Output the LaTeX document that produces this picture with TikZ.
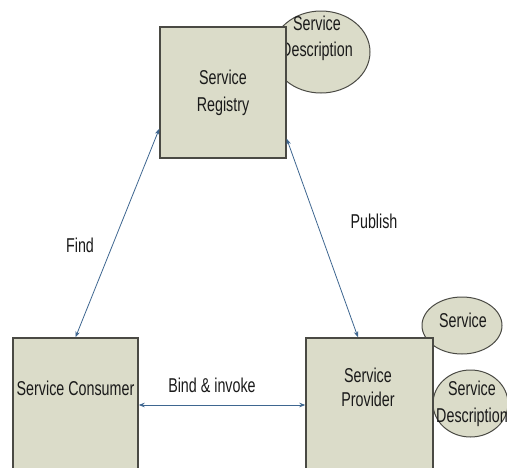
\documentclass[tikz,border=0pt]{standalone}
\usepackage{fontspec}
\setmainfont{Liberation Sans}
\usepackage{graphicx}
\usetikzlibrary{arrows.meta,shapes.geometric}
\definecolor{boxfill}{HTML}{DBDCC9}
\definecolor{boxline}{HTML}{4A4A44}
\definecolor{arrowc}{HTML}{3E6690}
\definecolor{txtc}{HTML}{1A1A1A}
\newcommand{\tl}[2][19]{\scalebox{1}[1.4]{\fontsize{14.3}{#1}\selectfont\begin{tabular}{@{}c@{}}#2\end{tabular}}}
\tikzset{
  boxnode/.style={draw=boxline, fill=boxfill, line width=1.4pt, inner sep=0pt, text=txtc},
  ellnode/.style={ellipse, draw=boxline, fill=boxfill, line width=1pt, inner sep=0pt},
  lbl/.style={inner sep=0pt, text=txtc},
  conn/.style={draw=arrowc, line width=0.8pt, {Stealth[length=6pt,width=4.5pt]}-{Stealth[length=6pt,width=4.5pt]}}
}
\begin{document}
\begin{tikzpicture}[x=1pt,y=-1pt]
\useasboundingbox (0,0) rectangle (507,467);
\clip (0,0) rectangle (507,467);
% ellipses (behind the boxes)
\node[ellnode, minimum width=98pt, minimum height=82pt] (d1) at (321,52) {};
\node[lbl] (d1t) at (317,38) {\tl{Service\\Description}};
\node[ellnode, minimum width=80pt, minimum height=57pt] (s2) at (462,325.5) {};
\node[lbl] (s2t) at (463,322) {\tl{Service}};
\node[ellnode, minimum width=75pt, minimum height=67pt] (d2) at (470.5,403.5) {};
\node[lbl] (d2t) at (472,403.5) {\tl{Service\\Description}};
% boxes
\node[boxnode, minimum width=126pt, minimum height=131pt] (reg) at (223,92.5) {\tl{Service\\Registry}};
\node[boxnode, minimum width=125pt, minimum height=142pt] (con) at (75.5,409) {};
\node[lbl] (cont) at (75.5,390) {\tl{Service Consumer}};
\node[boxnode, minimum width=127pt, minimum height=142pt] (prov) at (369.5,409) {};
\node[lbl] (provt) at (368,390) {\tl[17]{Service\\Provider}};
% connectors
\draw[conn] ([yshift=30pt]reg.south west) -- (con.north);
\draw[conn] ([yshift=20pt]reg.south east) -- ([xshift=-11.5pt]prov.north);
\draw[conn] ([yshift=4pt]con.east) -- ([yshift=4pt]prov.west);
% labels
\node[lbl] (find) at (80,247) {\tl{Find}};
\node[lbl] (pub) at (374,223) {\tl{Publish}};
\node[lbl] (bind) at (212,387) {\tl{Bind \& invoke}};
\end{tikzpicture}
\end{document}
